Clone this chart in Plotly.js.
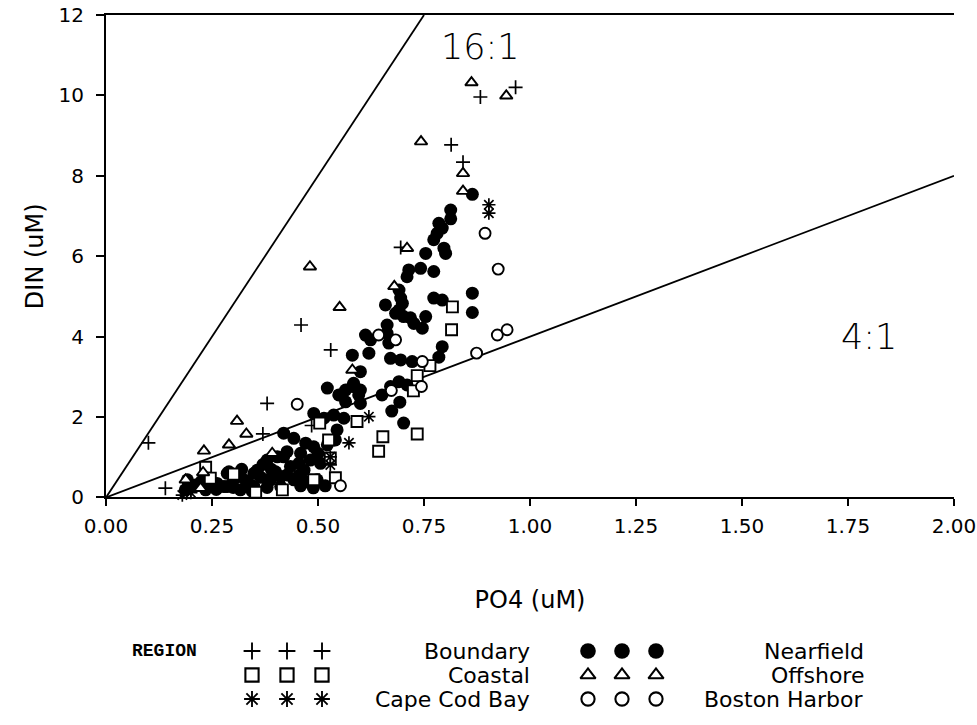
<!DOCTYPE html>
<html><head><meta charset="utf-8">
<script src="https://cdn.plot.ly/plotly-3.0.1.min.js"></script>
<style>html,body{margin:0;padding:0;background:#fff}#chart{width:977px;height:725px}</style>
</head><body><div id="chart"></div>
<script>
// ---- data (PO4 uM, DIN uM) ----
const boundaryX = [0.10, 0.14, 0.37, 0.38, 0.46, 0.53, 0.485, 0.695, 0.814, 0.842, 0.883, 0.966, 0.20];
const boundaryY = [1.36, 0.23, 1.58, 2.34, 4.29, 3.67, 1.79, 6.22, 8.77, 8.34, 9.96, 10.20, 0.15];

const coastalX = [0.235, 0.246, 0.301, 0.353, 0.416, 0.504, 0.525, 0.529, 0.541, 0.592, 0.643, 0.653, 0.725, 0.734, 0.764, 0.734, 0.815, 0.817, 0.49];
const coastalY = [0.75, 0.48, 0.58, 0.13, 0.19, 1.85, 1.43, 0.98, 0.49, 1.89, 1.15, 1.51, 2.65, 3.03, 3.28, 1.58, 4.17, 4.74, 0.44];

const capeCodX = [0.18, 0.20, 0.529, 0.529, 0.573, 0.620, 0.903, 0.903];
const capeCodY = [0.06, 0.12, 1.01, 0.81, 1.36, 2.01, 7.28, 7.07];

const nearfieldX = [0.864,0.813,0.813,0.785,0.793,0.781,0.773,0.797,0.801,0.754,0.742,0.714,0.710,0.773,0.691,0.695,0.699,0.691,0.702,0.659,
  0.663,0.683,0.718,0.754,0.726,0.773,0.793,0.864,0.864,0.746,0.663,0.667,0.612,0.624,0.581,0.620,0.793,0.785,0.671,0.695,
  0.722,0.691,0.671,0.710,0.600,0.584,0.565,0.600,0.651,0.693,0.674,0.702,0.522,0.549,0.581,0.596,0.565,0.600,0.490,0.514,
  0.537,0.561,0.419,0.443,0.545,0.541,0.522,0.471,0.490,0.459,0.427,0.482,0.506,0.435,0.467,0.404,0.380,0.443,0.471,0.498,
  0.290,0.317,0.349,0.380,0.412,0.286,0.301,0.278,0.317,0.341,0.357,0.388,0.412,0.427,0.419,0.262,0.286,0.349,0.380,0.192,
  0.211,0.187,0.195,0.235,0.254,0.459,0.489,0.517,0.33,0.365,0.40,0.455,0.26,0.30,0.225,0.37,0.39,0.345,0.32,0.50,0.455];
const nearfieldY = [7.54,7.15,6.93,6.82,6.70,6.57,6.41,6.20,6.07,6.07,5.70,5.66,5.49,5.62,5.16,4.96,4.83,4.66,4.50,4.79,
  4.29,4.58,4.47,4.50,4.33,4.96,4.91,5.08,4.60,4.21,4.08,3.84,4.04,3.92,3.54,3.59,3.75,3.49,3.46,3.42,
  3.38,2.88,2.76,2.80,3.13,2.84,2.67,2.67,2.55,2.37,2.15,1.85,2.72,2.55,2.76,2.55,2.38,2.34,2.09,1.97,
  2.05,1.97,1.60,1.47,1.68,1.43,1.31,1.35,1.26,1.10,1.14,0.93,0.85,0.77,0.68,1.01,0.93,0.44,0.39,0.44,
  0.64,0.52,0.60,0.44,0.52,0.60,0.44,0.27,0.19,0.31,0.68,0.44,0.27,0.56,1.01,0.35,0.27,0.27,0.25,0.44,
  0.31,0.19,0.35,0.19,0.31,0.29,0.24,0.29,0.42,0.50,0.64,0.55,0.20,0.25,0.40,0.82,0.70,0.15,0.70,1.10,0.85];

const offshoreX = [0.862, 0.944, 0.743, 0.842, 0.842, 0.710, 0.481, 0.551, 0.581, 0.309, 0.331, 0.290, 0.231, 0.392, 0.229, 0.188, 0.223, 0.68];
const offshoreY = [10.32, 9.99, 8.85, 8.06, 7.62, 6.20, 5.74, 4.73, 3.17, 1.90, 1.58, 1.31, 1.16, 1.10, 0.62, 0.44, 0.23, 5.25];

const harborX = [0.894, 0.925, 0.923, 0.946, 0.874, 0.746, 0.744, 0.673, 0.643, 0.683, 0.451, 0.553];
const harborY = [6.57, 5.68, 4.04, 4.17, 3.59, 3.38, 2.76, 2.66, 4.04, 3.92, 2.32, 0.29];

// N:P reference ratios and where each line ends on the x axis
const ratioValues = [16, 4];
const ratioXEnd = [0.75, 2.0];
const ratioLabels = ['16:1', '4:1'];

const regionNames = ['Boundary', 'Coastal', 'Cape Cod Bay', 'Nearfield', 'Offshore', 'Boston Harbor'];
const xTickVals = [0, 0.25, 0.5, 0.75, 1.0, 1.25, 1.5, 1.75, 2.0];
const yTickVals = [0, 2, 4, 6, 8, 10, 12];

// ---- styles ----
const FONT = 'DejaVu Sans';
const styles = {
  'Boundary':      {symbol: 'cross-thin-open', size: 10, color: '#000', lw: 1.7},
  'Coastal':       {symbol: 'square', size: 11, color: '#fff', lw: 1.9},
  'Cape Cod Bay':  {symbol: 'asterisk-open', size: 11, color: '#000', lw: 1.7},
  'Nearfield':     {symbol: 'circle', size: 13, color: '#000', lw: 0},
  'Offshore':      {symbol: 'triangle-up', size: 11, color: '#fff', lw: 1.9},
  'Boston Harbor': {symbol: 'circle', size: 11, color: '#fff', lw: 1.9}
};
const series = {
  'Nearfield': [nearfieldX, nearfieldY],
  'Boundary': [boundaryX, boundaryY],
  'Coastal': [coastalX, coastalY],
  'Cape Cod Bay': [capeCodX, capeCodY],
  'Offshore': [offshoreX, offshoreY],
  'Boston Harbor': [harborX, harborY]
};
function mk(name, scale) {
  const s = styles[name];
  const k = scale || 1;
  return {symbol: s.symbol, size: s.size * k, color: s.color,
          line: {color: '#000', width: s.lw * (k > 1 ? 1.1 : 1)}};
}

const traces = [];
// ratio lines
ratioValues.forEach((r, i) => {
  traces.push({x: [0, ratioXEnd[i]], y: [0, r * ratioXEnd[i]], mode: 'lines',
    line: {color: '#000', width: 1.8}, showlegend: false, hoverinfo: 'skip',
    xaxis: 'x', yaxis: 'y'});
});
Object.keys(series).forEach(name => {
  traces.push({x: series[name][0], y: series[name][1], mode: 'markers', name: name,
    marker: mk(name), showlegend: false, xaxis: 'x', yaxis: 'y', cliponaxis: false});
});

// ---- custom legend (own invisible axes, units = page pixels) ----
const legRowY = [651, 675, 699];
const legSymX = [[252, 287, 322], [588, 622, 656]];
const legTextX = [532, 866];
const annotations = [];
regionNames.forEach((name, i) => {
  const col = Math.floor(i / 3), row = i % 3;
  traces.push({x: legSymX[col], y: legSymX[col].map(() => legRowY[row]), mode: 'markers',
    marker: mk(name, 1.2), showlegend: false, hoverinfo: 'skip', xaxis: 'x2', yaxis: 'y2', cliponaxis: false});
  annotations.push({xref: 'x2', yref: 'y2', x: legTextX[col], y: legRowY[row], text: name,
    xanchor: 'right', yanchor: 'middle', showarrow: false, font: {family: FONT, size: 22, color: '#000'}});
});
annotations.push({xref: 'x2', yref: 'y2', x: 130, y: 651, text: '<b>REGION</b>', xanchor: 'left', yanchor: 'middle',
  showarrow: false, font: {family: 'Liberation Mono', size: 18, color: '#000'}});
// ratio labels
annotations.push({xref: 'x', yref: 'y', x: 0.883, y: 11.2, text: ratioLabels[0], showarrow: false,
  xanchor: 'center', yanchor: 'middle', font: {family: FONT, size: 35, color: '#000', weight: 300}});
annotations.push({xref: 'x', yref: 'y', x: 1.80, y: 3.99, text: ratioLabels[1], showarrow: false,
  xanchor: 'center', yanchor: 'middle', font: {family: FONT, size: 35, color: '#000', weight: 300}});

const layout = {
  width: 977, height: 725,
  margin: {l: 106, r: 23, t: 15, b: 15},
  paper_bgcolor: '#fff', plot_bgcolor: '#fff',
  font: {family: FONT, color: '#000'},
  showlegend: false,
  xaxis: {domain: [0, 1], range: [0, 2], anchor: 'y', tickvals: xTickVals, tickformat: '.2f',
    ticks: 'outside', ticklen: 7, tickwidth: 2, tickcolor: '#000',
    showline: true, linewidth: 2, linecolor: '#000', mirror: true,
    showgrid: false, zeroline: false, tickfont: {family: FONT, size: 20},
    ticklabelstandoff: 3,
    title: {text: 'PO4 (uM)', font: {family: FONT, size: 24}, standoff: 54}},
  yaxis: {domain: [0.3058, 1], range: [0, 12], anchor: 'x', tickvals: yTickVals,
    ticks: 'outside', ticklen: 8, tickwidth: 2, tickcolor: '#000',
    showline: true, linewidth: 2, linecolor: '#000',
    showgrid: false, zeroline: false, tickfont: {family: FONT, size: 20},
    ticklabelstandoff: 8,
    title: {text: 'DIN (uM)', font: {family: FONT, size: 24}, standoff: 8}},
  xaxis2: {domain: [0, 1], range: [106, 954], anchor: 'y2', visible: false, fixedrange: true},
  yaxis2: {domain: [0, 0.13], range: [710, 619.65], anchor: 'x2', visible: false, fixedrange: true},
  annotations: annotations
};

Plotly.newPlot('chart', traces, layout, {staticPlot: true, displayModeBar: false});
</script>
</body></html>
